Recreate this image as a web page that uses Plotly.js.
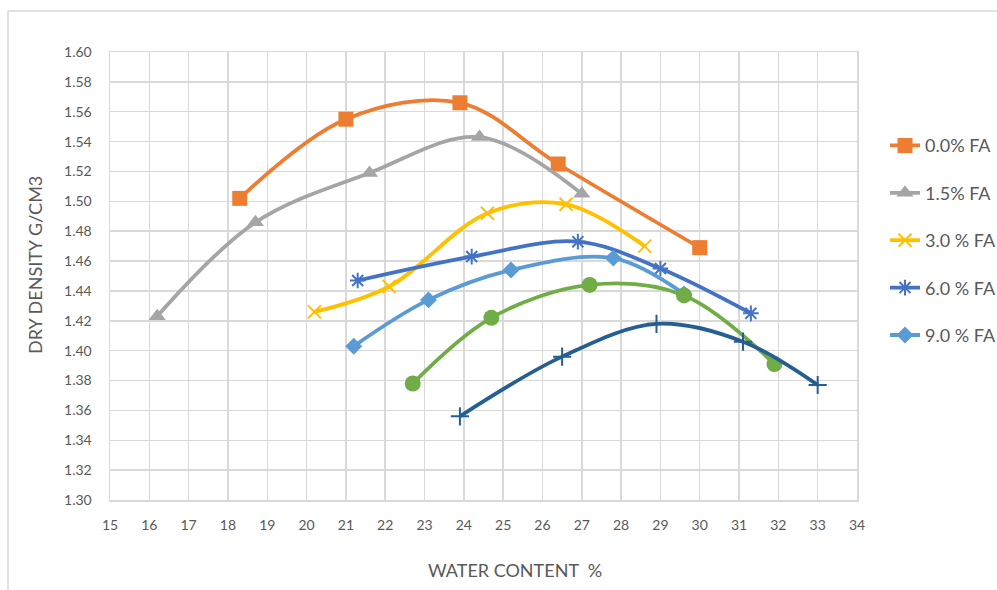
<!DOCTYPE html>
<html>
<head>
<meta charset="utf-8">
<script src="https://cdn.plot.ly/plotly-3.0.1.min.js"></script>
<style>html,body{margin:0;padding:0;background:#fff;overflow:hidden;}#chart{width:997px;height:590px;}</style>
</head>
<body>
<div id="chart"></div>
<script>
// Data
const seriesNames = ["0.0% FA", "1.5% FA", "3.0 % FA", "6.0 % FA", "9.0 % FA", "12.0 % FA", "15.0 % FA"];
const x00 = [18.3, 21.0, 23.9, 26.4, 30.0];
const y00 = [1.502, 1.555, 1.566, 1.525, 1.469];
const x15 = [16.2, 18.7, 21.6, 24.4, 27.0];
const y15 = [1.423, 1.486, 1.519, 1.543, 1.505];
const x30 = [20.2, 22.1, 24.6, 26.6, 28.6];
const y30 = [1.426, 1.443, 1.492, 1.498, 1.470];
const x60 = [21.3, 24.2, 26.9, 29.0, 31.3];
const y60 = [1.447, 1.463, 1.473, 1.455, 1.425];
const x90 = [21.2, 23.1, 25.2, 27.8, 29.6];
const y90 = [1.403, 1.434, 1.454, 1.462, 1.438];
const x120 = [22.7, 24.7, 27.2, 29.6, 31.9];
const y120 = [1.378, 1.422, 1.444, 1.437, 1.391];
const x150 = [23.9, 26.5, 28.9, 31.1, 33.0];
const y150 = [1.356, 1.396, 1.418, 1.406, 1.377];
const xTicks = [15,16,17,18,19,20,21,22,23,24,25,26,27,28,29,30,31,32,33,34];

const colors = ["#ED7D31", "#A5A5A5", "#FFC000", "#4472C4", "#5B9BD5", "#70AD47", "#255E91"];
const xs = [x00, x15, x30, x60, x90, x120, x150];
const ys = [y00, y15, y30, y60, y90, y120, y150];
const markers = [
  {symbol: "square", size: 15},
  {symbol: "triangle-up", size: 15},
  {symbol: "x-thin-open", size: 13, line: {width: 2}},
  {symbol: "asterisk-open", size: 13, line: {width: 2}},
  {symbol: "diamond", size: 13},
  {symbol: "circle", size: 16},
  {symbol: "cross-thin-open", size: 13, line: {width: 2}}
];

const traces = xs.map((x, i) => {
  const m = Object.assign({color: colors[i]}, markers[i]);
  m.line = Object.assign({color: colors[i], width: 0}, markers[i].line || {});
  return {
    type: "scatter", mode: "lines+markers",
    name: seriesNames[i], x: x, y: ys[i],
    line: {color: colors[i], width: 3.8, shape: "spline", smoothing: 1},
    marker: m,
    legendgroup: "g" + i,
    showlegend: i < 5
  };
});

const gridColor = "#D9D9D9";
const layout = {
  width: 997, height: 590,
  margin: {l: 110, r: 140, t: 52, b: 90, autoexpand: false},
  paper_bgcolor: "#fff", plot_bgcolor: "#fff",
  font: {family: "Lato, 'Open Sans', sans-serif", color: "#595959", size: 14},
  xaxis: {
    range: [15, 34], tickvals: xTicks, ticktext: xTicks.map(String),
    showgrid: true, gridcolor: gridColor, gridwidth: 1.5,
    showline: true, linecolor: gridColor, linewidth: 1.5, mirror: true,
    zeroline: false, ticks: "", ticklabelstandoff: 12,
    tickfont: {size: 14, color: "#595959"}
  },
  yaxis: {
    range: [1.30, 1.60], dtick: 0.02, tick0: 1.30, tickformat: ".2f",
    showgrid: true, gridcolor: gridColor, gridwidth: 1.5,
    showline: true, linecolor: gridColor, linewidth: 1.5, mirror: true,
    zeroline: false, ticks: "", ticklabelstandoff: 14,
    tickfont: {size: 14, color: "#595959"}
  },
  showlegend: true,
  legend: {
    x: 1.0 + 28 / 747, xanchor: "left", y: 0.85 - 8 / 448, yanchor: "top",
    font: {size: 18, color: "#595959"},
    traceorder: "grouped", tracegroupgap: 21,
    bgcolor: "rgba(0,0,0,0)"
  },
  annotations: [
    {text: "WATER CONTENT  %", xref: "paper", yref: "paper",
     x: (515 - 110) / 747, y: -(570 - 500) / 448, xanchor: "center", yanchor: "middle",
     showarrow: false, font: {size: 18, color: "#595959"}},
    {text: "DRY DENSITY G/CM3", xref: "paper", yref: "paper",
     x: (35 - 110) / 747, y: (500 - 265) / 448, xanchor: "center", yanchor: "middle",
     textangle: -90, showarrow: false, font: {size: 18, color: "#595959"}}
  ],
  shapes: [
    {type: "line", xref: "paper", yref: "paper", x0: (8 - 110) / 747, x1: 2,
     y0: (500 - 11) / 448, y1: (500 - 11) / 448, line: {color: gridColor, width: 1.5}},
    {type: "line", xref: "paper", yref: "paper", x0: (8 - 110) / 747, x1: (8 - 110) / 747,
     y0: (500 - 11) / 448, y1: -1, line: {color: gridColor, width: 1.5}}
  ]
};

Plotly.newPlot("chart", traces, layout, {displayModeBar: false, staticPlot: true});
</script>
</body>
</html>
